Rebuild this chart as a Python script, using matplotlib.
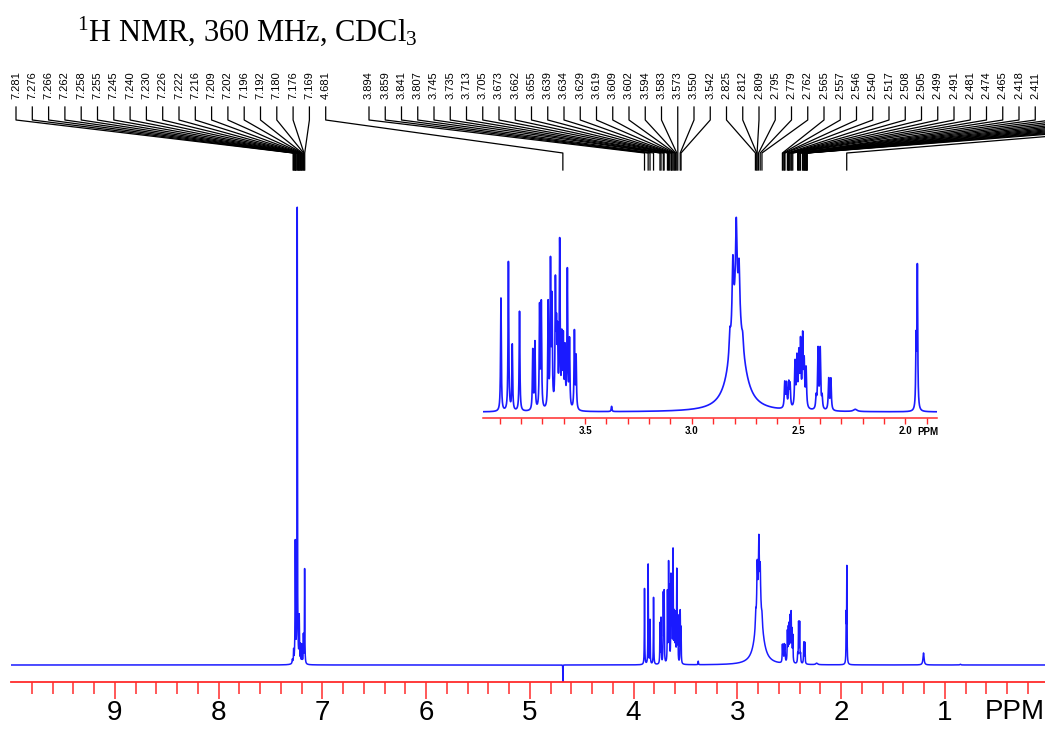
"""1H NMR spectrum (360 MHz, CDCl3) with peak labels and expanded inset"""

import numpy as np
import matplotlib

matplotlib.use("Agg")
import matplotlib.pyplot as plt
from matplotlib.ticker import FixedLocator, NullLocator

# Peak list: shift (ppm), height (px above baseline), FWHM (ppm)
peak_ppm = [
    7.288, 7.276, 7.260, 7.241, 7.222, 7.209, 7.196, 7.182, 7.170,
    4.681,
    3.894, 3.859, 3.841, 3.807, 3.745, 3.735, 3.713, 3.705, 3.673, 3.662,
    3.655, 3.639, 3.634, 3.629, 3.619, 3.609, 3.602, 3.594, 3.583, 3.573,
    3.550, 3.542, 3.376,
    2.790, 2.822, 2.808, 2.792, 2.779, 2.762,
    2.565, 2.557, 2.546, 2.540, 2.517, 2.508, 2.499, 2.491, 2.481, 2.474,
    2.465, 2.418, 2.409, 2.399, 2.390, 2.359, 2.349, 2.235,
    1.950, 1.944, 1.205, 0.850,
]
peak_height = [
    4, 12, 120, 455, 45, 18, 18, 28, 95,
    -17,
    76, 100, 44, 67, 40, 45, 68, 70, 70, 95,
    70, 80, 45, 45, 110, 45, 45, 38, 92, 45,
    52, 35, 3.5,
    70, 14, 45, 55, 33, 8,
    17, 16, 16, 15, 30, 32, 34, 42, 46, 28,
    26, 8, 40, 40, 8, 21, 21, 1.5,
    45, 95, 12, 0.8,
]
peak_width = [
    0.006, 0.004, 0.005, 0.004, 0.004, 0.004, 0.004, 0.004, 0.004,
    0.0015,
    0.004, 0.004, 0.004, 0.004, 0.004, 0.004, 0.004, 0.004, 0.004, 0.004,
    0.004, 0.004, 0.004, 0.004, 0.004, 0.004, 0.004, 0.004, 0.004, 0.004,
    0.004, 0.004, 0.004,
    0.07, 0.008, 0.008, 0.008, 0.008, 0.008,
    0.005, 0.005, 0.005, 0.005, 0.005, 0.005, 0.005, 0.005, 0.005, 0.005,
    0.005, 0.005, 0.005, 0.005, 0.005, 0.005, 0.005, 0.02,
    0.004, 0.004, 0.012, 0.01,
]

# Peak picking labels (the last ones run off the right edge)
label_ppm = [
    "7.281", "7.276", "7.266", "7.262", "7.258", "7.255", "7.245", "7.240",
    "7.230", "7.226", "7.222", "7.216", "7.209", "7.202", "7.196", "7.192",
    "7.180", "7.176", "7.169", "4.681",
    "3.894", "3.859", "3.841", "3.807", "3.745", "3.735", "3.713", "3.705",
    "3.673", "3.662", "3.655", "3.639", "3.634", "3.629", "3.619", "3.609",
    "3.602", "3.594", "3.583", "3.573", "3.550", "3.542",
    "2.825", "2.812", "2.809", "2.795", "2.779", "2.762", "2.565", "2.557",
    "2.546", "2.540", "2.517", "2.508", "2.505", "2.499", "2.491", "2.481",
    "2.474", "2.465", "2.418", "2.411",
    "2.404", "2.397", "2.390", "2.370", "2.364", "2.357", "2.351", "2.346",
    "2.340", "2.334", "2.330", "2.325", "1.945",
]

main_ticks = [1, 2, 3, 4, 5, 6, 7, 8, 9]
inset_ticks = [3.5, 3.0, 2.5, 2.0]

RED = "#ff2b2b"
BLUE = "#1a1aff"

plt.rcParams["font.family"] = ["Liberation Sans", "DejaVu Sans"]


def lorentz_sum(x):
    y = np.zeros_like(x)
    for p, h, w in zip(peak_ppm, peak_height, peak_width):
        y += h / (1.0 + ((x - p) / (w / 2.0)) ** 2)
    return y


ppm = np.linspace(10.0, 0.0, 80001)
spec = lorentz_sum(ppm)

W, H = 1045, 730
fig = plt.figure(figsize=(W / 100, H / 100), dpi=100)

# Main spectrum
ax = fig.add_axes([11 / W, (H - 682) / H, 1034 / W, 487 / H])
ax.plot(ppm, spec, color=BLUE, linewidth=1.1)
ax.set_xlim(10.0, 0.034)
ax.set_ylim(-17, 470)
for s in ["top", "left", "right"]:
    ax.spines[s].set_visible(False)
ax.spines["bottom"].set_color(RED)
ax.spines["bottom"].set_linewidth(1.3)
ax.yaxis.set_major_locator(NullLocator())
ax.xaxis.set_major_locator(FixedLocator(main_ticks))
minor = [round(v, 1) for v in np.arange(0.2, 9.9, 0.2) if abs(v - round(v)) > 0.05]
ax.xaxis.set_minor_locator(FixedLocator(minor))
ax.tick_params(axis="x", which="major", length=12.2, width=1.1, color=RED,
               labelsize=20, pad=1)
ax.tick_params(axis="x", which="minor", length=8.6, width=1.1, color=RED)
ax.set_facecolor("none")

# Inset (expanded 1.85-3.98 ppm)
ax_in = fig.add_axes([483 / W, (H - 418) / H, 454 / W, 208 / H])
ax_in.plot(ppm, spec, color=BLUE, linewidth=1.2)
ax_in.set_xlim(3.978, 1.852)
ax_in.set_ylim(-4, 135.6)
for s in ["top", "left", "right"]:
    ax_in.spines[s].set_visible(False)
ax_in.spines["bottom"].set_color(RED)
ax_in.spines["bottom"].set_linewidth(1.1)
ax_in.yaxis.set_major_locator(NullLocator())
ax_in.xaxis.set_major_locator(FixedLocator(inset_ticks))
ax_in.xaxis.set_minor_locator(FixedLocator([round(v, 1) for v in np.arange(1.9, 3.95, 0.1)]))
ax_in.set_xticklabels(["%.1f" % t for t in inset_ticks], fontsize=7, fontweight="bold")
ax_in.tick_params(axis="x", which="both", length=4, width=1.0, color=RED, pad=2)
ax_in.set_facecolor("none")

# Overlay in pixel coordinates for labels, brackets and extra text
ov = fig.add_axes([0, 0, 1, 1])
ov.set_xlim(0, W)
ov.set_ylim(H, 0)
ov.axis("off")

for i, s in enumerate(label_ppm):
    if i < 20:
        lx = 16 + 16.3 * i
    else:
        lx = 369 + 16.25 * (i - 20)
    px = ax.transData.transform((float(s), 0))[0]
    ov.plot([lx, lx, px, px], [107, 120, 153, 170], color="k", linewidth=0.9,
            clip_on=False)
    # labels past the right edge are not visible in the original
    if lx < W - 6:
        ov.text(lx, 99, s, rotation=90, ha="center", va="bottom", fontsize=8)

ov.text(985, 712, "PPM", fontsize=20, ha="left", va="center")
ov.text(917, 432, "PPM", fontsize=7, fontweight="bold", ha="left", va="center")

fig.text(77 / W, 1 - 41 / H, "$\\mathregular{^1}$H NMR, 360 MHz, CDCl$\\mathregular{_3}$",
         family=["Liberation Serif", "DejaVu Serif"], fontsize=22, va="baseline")

fig.savefig("out.png", dpi=100, facecolor="white")
plt.close(fig)
